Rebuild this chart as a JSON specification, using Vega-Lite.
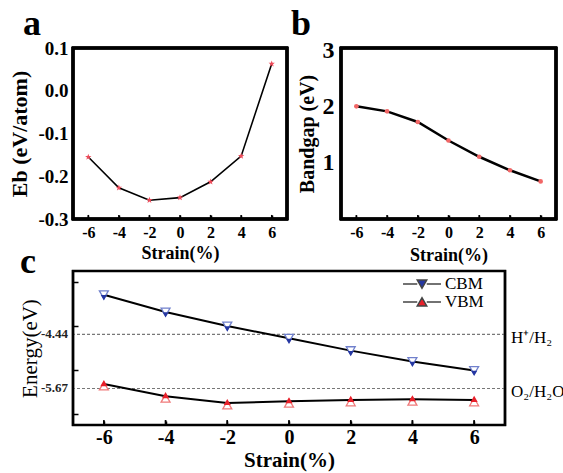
{
  "$schema": "https://vega.github.io/schema/vega-lite/v6.json",
  "background": "white",
  "padding": {"left": 7, "top": 4, "right": 2, "bottom": 2},
  "datasets": {
    "eb": [
      {"strain": -6, "eb": -0.155},
      {"strain": -4, "eb": -0.227},
      {"strain": -2, "eb": -0.256},
      {"strain": 0, "eb": -0.25},
      {"strain": 2, "eb": -0.213},
      {"strain": 4, "eb": -0.153},
      {"strain": 6, "eb": 0.063}
    ],
    "gap": [
      {"strain": -6, "gap": 2.01},
      {"strain": -4, "gap": 1.92},
      {"strain": -2, "gap": 1.73},
      {"strain": 0, "gap": 1.4},
      {"strain": 2, "gap": 1.11},
      {"strain": 4, "gap": 0.87},
      {"strain": 6, "gap": 0.67}
    ],
    "energy": [
      {"strain": -6, "series": "CBM", "energy": -3.54},
      {"strain": -4, "series": "CBM", "energy": -3.93},
      {"strain": -2, "series": "CBM", "energy": -4.25},
      {"strain": 0, "series": "CBM", "energy": -4.53},
      {"strain": 2, "series": "CBM", "energy": -4.81},
      {"strain": 4, "series": "CBM", "energy": -5.055},
      {"strain": 6, "series": "CBM", "energy": -5.26},
      {"strain": -6, "series": "VBM", "energy": -5.57},
      {"strain": -4, "series": "VBM", "energy": -5.845},
      {"strain": -2, "series": "VBM", "energy": -6.0},
      {"strain": 0, "series": "VBM", "energy": -5.96},
      {"strain": 2, "series": "VBM", "energy": -5.93},
      {"strain": 4, "series": "VBM", "energy": -5.915},
      {"strain": 6, "series": "VBM", "energy": -5.93}
    ],
    "refs": [
      {"level": -4.44, "tag": "-4.44", "couple": "H⁺/H₂"},
      {"level": -5.67, "tag": "-5.67", "couple": "O₂/H₂O"}
    ]
  },
  "config": {
    "font": "Liberation Serif",
    "view": {"stroke": "#000000", "strokeWidth": 2.5},
    "axis": {
      "grid": false,
      "domain": false,
      "labelFont": "Liberation Serif",
      "titleFont": "Liberation Serif",
      "labelColor": "#000000",
      "titleColor": "#000000",
      "tickColor": "#000000",
      "tickWidth": 1.5,
      "tickOpacity": 1
    },
    "title": {
      "font": "Liberation Serif",
      "fontSize": 36,
      "fontWeight": "bold",
      "anchor": "start",
      "frame": "group",
      "baseline": "alphabetic",
      "color": "#000000"
    }
  },
  "spacing": -24,
  "resolve": {
    "scale": {"shape": "independent", "fill": "independent"},
    "legend": {"shape": "independent", "fill": "independent"}
  },
  "vconcat": [
    {
      "spacing": -1,
      "hconcat": [
        {
          "width": 214,
          "height": 171,
          "title": {"text": "a", "dx": -50, "offset": -4},
          "data": {"name": "eb"},
          "encoding": {
            "x": {
              "field": "strain",
              "type": "quantitative",
              "scale": {"domain": [-7, 7], "nice": false},
              "axis": {
                "values": [-6, -4, -2, 0, 2, 4, 6],
                "title": "Strain(%)",
                "labelExpr": "replace(datum.label, '−', '-')",
                "labelFontSize": 16,
                "labelFontWeight": "bold",
                "titleFontSize": 18,
                "titleFontWeight": "bold",
                "tickSize": 4,
                "offset": -4,
                "labelPadding": 5,
                "titlePadding": 4
              }
            },
            "y": {
              "field": "eb",
              "type": "quantitative",
              "scale": {"domain": [-0.3, 0.1], "nice": false, "zero": false},
              "axis": {
                "values": [-0.3, -0.2, -0.1, 0, 0.1],
                "format": ".1f",
                "labelExpr": "replace(datum.label, '−', '-')",
                "title": "Eb (eV/atom)",
                "labelFontSize": 19,
                "labelFontWeight": "bold",
                "titleFontSize": 22,
                "titleFontWeight": "bold",
                "ticks": false,
                "labelPadding": 5,
                "titlePadding": 6
              }
            }
          },
          "layer": [
            {
              "mark": {"type": "rect", "fill": null, "fillOpacity": 0, "stroke": "#000000", "strokeWidth": 2.5},
              "encoding": {
                "x": {"datum": -7, "type": "quantitative"},
                "x2": {"datum": 7},
                "y": {"datum": -0.3, "type": "quantitative"},
                "y2": {"datum": 0.1}
              }
            },
            {
              "mark": {"type": "rule", "color": "#000000", "strokeWidth": 1.5},
              "encoding": {
                "y": {"datum": -0.3, "type": "quantitative"},
                "y2": {"datum": -0.2905}
              }
            },
            {"mark": {"type": "line", "color": "black", "strokeWidth": 1.6}},
            {
              "mark": {
                "type": "point",
                "shape": "M0,-1L0.24,-0.33L0.95,-0.31L0.38,0.12L0.59,0.81L0,0.4L-0.59,0.81L-0.38,0.12L-0.95,-0.31L-0.24,-0.33Z",
                "filled": true,
                "color": "#ee4b5a",
                "opacity": 1,
                "size": 45
              }
            }
          ]
        },
        {
          "width": 215,
          "height": 171,
          "title": {"text": "b", "dx": -50, "offset": -4},
          "data": {"name": "gap"},
          "encoding": {
            "x": {
              "field": "strain",
              "type": "quantitative",
              "scale": {"domain": [-7, 7], "nice": false},
              "axis": {
                "values": [-6, -4, -2, 0, 2, 4, 6],
                "title": "Strain(%)",
                "labelExpr": "replace(datum.label, '−', '-')",
                "labelFontSize": 16,
                "labelFontWeight": "bold",
                "titleFontSize": 18,
                "titleFontWeight": "bold",
                "tickSize": 4,
                "offset": -4,
                "labelPadding": 5,
                "titlePadding": 6
              }
            },
            "y": {
              "field": "gap",
              "type": "quantitative",
              "scale": {"domain": [0, 3.05], "nice": false},
              "axis": {
                "values": [1, 2, 3],
                "title": "Bandgap (eV)",
                "labelFontSize": 24,
                "labelFontWeight": "bold",
                "titleFontSize": 20,
                "titleFontWeight": "bold",
                "ticks": false,
                "labelPadding": 7,
                "titlePadding": 5
              }
            }
          },
          "layer": [
            {
              "mark": {"type": "rect", "fill": null, "fillOpacity": 0, "stroke": "#000000", "strokeWidth": 2.5},
              "encoding": {
                "x": {"datum": -7, "type": "quantitative"},
                "x2": {"datum": 7},
                "y": {"datum": 0, "type": "quantitative"},
                "y2": {"datum": 3.05}
              }
            },
            {
              "mark": {"type": "rule", "color": "#000000", "strokeWidth": 1.5},
              "encoding": {
                "y": {"datum": 0, "type": "quantitative"},
                "y2": {"datum": 0.07}
              }
            },
            {"mark": {"type": "line", "color": "black", "strokeWidth": 2.5}},
            {
              "mark": {
                "type": "point",
                "shape": "circle",
                "filled": true,
                "color": "#f26666",
                "opacity": 1,
                "size": 22
              }
            }
          ]
        }
      ]
    },
    {
      "width": 432,
      "height": 154,
      "title": {"text": "c", "dx": -53, "offset": -11},
      "layer": [
        {
          "data": {"name": "refs"},
          "mark": {"type": "rule", "color": "#777777", "strokeWidth": 1.2, "strokeDash": [3, 2]},
          "encoding": {"y": {"field": "level", "type": "quantitative", "scale": {"domain": [-6.5, -3], "nice": false, "zero": false}}}
        },
        {
          "data": {"name": "refs"},
          "mark": {"type": "rect", "fill": null, "fillOpacity": 0, "stroke": "#000000", "strokeWidth": 2.2},
          "encoding": {
            "x": {"datum": -7, "type": "quantitative"},
            "x2": {"datum": 7},
            "y": {"datum": -6.5, "type": "quantitative"},
            "y2": {"datum": -3}
          }
        },
        {
          "data": {"name": "energy"},
          "mark": {"type": "rule", "color": "#000000", "strokeWidth": 1.5},
          "encoding": {
            "x": {"field": "strain", "type": "quantitative"},
            "y": {"datum": -6.5, "type": "quantitative"},
            "y2": {"datum": -6.39}
          }
        },
        {
          "data": {"name": "refs"},
          "mark": {"type": "text", "align": "right", "baseline": "middle", "dx": -5, "fontSize": 13, "fontWeight": "bold", "color": "#222222"},
          "encoding": {
            "x": {"datum": -7, "type": "quantitative"},
            "y": {"field": "level", "type": "quantitative"},
            "text": {"field": "tag", "type": "nominal"}
          }
        },
        {
          "data": {"name": "refs"},
          "mark": {"type": "text", "align": "left", "baseline": "middle", "dx": 6, "dy": 4, "fontSize": 17, "color": "#000000"},
          "encoding": {
            "x": {"datum": 7, "type": "quantitative"},
            "y": {"field": "level", "type": "quantitative"},
            "text": {"field": "couple", "type": "nominal"}
          }
        },
        {
          "data": {"name": "energy"},
          "mark": {"type": "line", "color": "black", "strokeWidth": 2},
          "encoding": {
            "x": {
              "field": "strain",
              "type": "quantitative",
              "scale": {"domain": [-7, 7], "nice": false},
              "axis": {
                "values": [-6, -5, -4, -3, -2, -1, 0, 1, 2, 3, 4, 5, 6],
                "title": "Strain(%)",
                "labelExpr": "datum.value % 2 == 0 ? replace(datum.label, '−', '-') : ''",
                "labelFontSize": 20,
                "labelFontWeight": "bold",
                "titleFontSize": 21,
                "titleFontWeight": "bold",
                "tickSize": 4,
                "offset": -4,
                "labelPadding": 2,
                "titlePadding": 2
              }
            },
            "y": {
              "field": "energy",
              "type": "quantitative",
              "axis": {
                "values": [-3.25, -3.5, -3.75, -4, -4.25, -4.5, -4.75, -5, -5.25, -5.5, -5.75, -6, -6.25],
                "labels": false,
                "title": "Energy(eV)",
                "titleFontSize": 21,
                "titleFontWeight": "normal",
                "tickSize": 5,
                "offset": -5,
                "titlePadding": 32
              }
            },
            "detail": {"field": "series"}
          }
        },
        {
          "data": {"name": "energy"},
          "transform": [{"filter": "datum.series == 'CBM'"}],
          "mark": {"type": "point", "shape": "triangle-down", "filled": true, "fill": "white", "stroke": "#7080cc", "strokeWidth": 1.3, "opacity": 1, "size": 80},
          "encoding": {"x": {"field": "strain", "type": "quantitative"}, "y": {"field": "energy", "type": "quantitative"}}
        },
        {
          "data": {"name": "energy"},
          "transform": [{"filter": "datum.series == 'CBM'"}],
          "mark": {"type": "point", "shape": "triangle-down", "filled": true, "color": "#2537a2", "opacity": 1, "size": 38, "yOffset": 3},
          "encoding": {"x": {"field": "strain", "type": "quantitative"}, "y": {"field": "energy", "type": "quantitative"}}
        },
        {
          "data": {"name": "energy"},
          "transform": [{"filter": "datum.series == 'VBM'"}],
          "mark": {"type": "point", "shape": "triangle-up", "filled": true, "fill": "white", "stroke": "#f07a7a", "strokeWidth": 1.3, "opacity": 1, "size": 80, "yOffset": 2},
          "encoding": {"x": {"field": "strain", "type": "quantitative"}, "y": {"field": "energy", "type": "quantitative"}}
        },
        {
          "data": {"name": "energy"},
          "transform": [{"filter": "datum.series == 'VBM'"}],
          "mark": {"type": "point", "shape": "triangle-up", "filled": true, "color": "#e8202a", "opacity": 1, "size": 50, "yOffset": -1},
          "encoding": {"x": {"field": "strain", "type": "quantitative"}, "y": {"field": "energy", "type": "quantitative"}}
        },
        {
          "data": {"name": "energy"},
          "mark": {"type": "point", "filled": false, "opacity": 0, "size": 250, "stroke": "#444444", "strokeWidth": 1},
          "encoding": {
            "x": {"field": "strain", "type": "quantitative"},
            "y": {"field": "energy", "type": "quantitative"},
            "shape": {
              "field": "series",
              "type": "nominal",
              "scale": {
                "domain": ["CBM", "VBM"],
                "range": ["M-2.4,0H-0.6M0.6,0H2.4M-0.6,-0.5H0.6L0,0.55Z", "M-2.4,0H-0.6M0.6,0H2.4M-0.6,0.5H0.6L0,-0.55Z"]
              },
              "legend": {
                "title": null,
                "orient": "none",
                "legendX": 340,
                "legendY": 4,
                "symbolSize": 250,
                "symbolOpacity": 1,
                "labelFont": "Liberation Serif",
                "labelFontSize": 17,
                "labelColor": "#000000",
                "labelOffset": 14,
                "rowPadding": 1,
                "encode": {"symbols": {"update": {"stroke": {"value": "#444444"}, "strokeWidth": {"value": 1}, "opacity": {"value": 1}}}}
              }
            },
            "fill": {
              "field": "series",
              "type": "nominal",
              "scale": {"domain": ["CBM", "VBM"], "range": ["#2537a2", "#e8202a"]},
              "legend": {
                "title": null,
                "orient": "none",
                "legendX": 340,
                "legendY": 4,
                "symbolSize": 250,
                "symbolOpacity": 1,
                "labelFont": "Liberation Serif",
                "labelFontSize": 17,
                "labelColor": "#000000",
                "labelOffset": 14,
                "rowPadding": 1,
                "encode": {"symbols": {"update": {"stroke": {"value": "#444444"}, "strokeWidth": {"value": 1}, "opacity": {"value": 1}}}}
              }
            }
          }
        }
      ]
    }
  ]
}
